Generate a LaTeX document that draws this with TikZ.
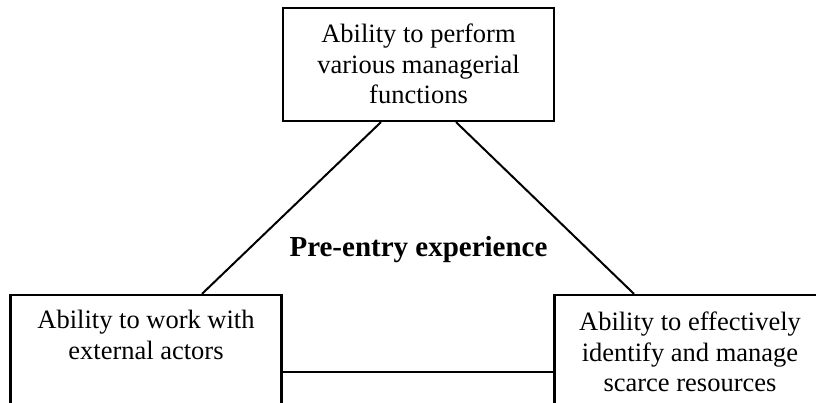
\documentclass[tikz,border=0pt]{standalone}
\usepackage{fontspec}
\setmainfont{Liberation Serif}
\usetikzlibrary{calc}
\begin{document}
\begin{tikzpicture}[x=0.5bp,y=-0.5bp,
  box/.style={draw, line width=1.1bp, minimum width=135.5bp, minimum height=56.5bp, inner sep=0pt},
  boxtext/.style={anchor=north, align=center, inner sep=0pt, font=\fontsize{13.25bp}{15.25bp}\selectfont},
  link/.style={line width=1bp},
  titletext/.style={anchor=base, inner sep=0pt, font=\fontsize{14.5bp}{17bp}\selectfont\bfseries}]
\useasboundingbox (0,0) rectangle (816,403);
\fill[white] (0,0) rectangle (816,403);
\clip (0,0) rectangle (816,403);
\node[box] (top) at (418.5,64.5) {};
\node[box] (lbox) at (146,351.5) {};
\node[box] (rbox) at (690,351.5) {};
\node[boxtext] (toptext) at ($(top.north)+(0,17)$) {Ability to perform\\various managerial\\functions};
\node[boxtext] (ltext) at ($(lbox.north)+(0,16)$) {Ability to work with\\external actors};
\node[boxtext] (rtext) at ($(rbox.north)+(0,18)$) {Ability to effectively\\identify and manage\\scarce resources};
\node[titletext] (title) at (418.5,256.7) {Pre-entry experience};
\draw[link] ($(top.south)+(-37.5,0)$) -- ($(lbox.north)+(56,0)$);
\draw[link] ($(top.south)+(37.5,0)$) -- ($(rbox.north)+(-56,0)$);
\draw[link] ($(lbox.east)+(0,20.5)$) -- ($(rbox.west)+(0,20.5)$);
\end{tikzpicture}
\end{document}
